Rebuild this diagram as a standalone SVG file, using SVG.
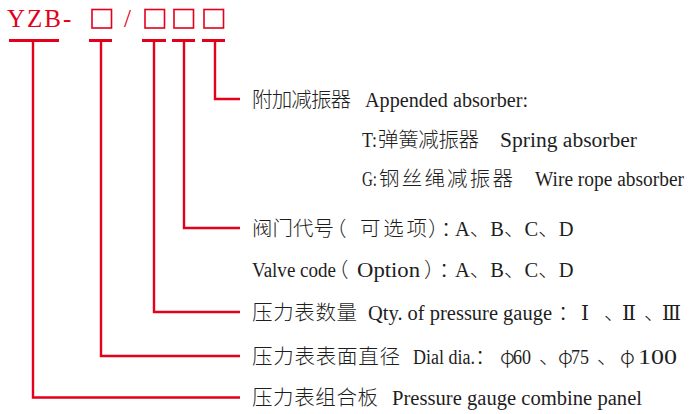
<svg xmlns="http://www.w3.org/2000/svg" width="689" height="414" viewBox="0 0 689 414">
<style>
.red{fill:#e3001b}
.box{fill:none;stroke:#e3001b;stroke-width:1.6}
.ln{fill:none;stroke:#e3001b;stroke-width:2.4}
.bar{fill:none;stroke:#e3001b;stroke-width:2.8}
text{fill:#1e1e1e;font-size:20.5px}
.cjk{font-family:"Noto Sans CJK SC","Noto Sans",sans-serif;font-weight:300}
.en{font-family:"Liberation Serif","Times New Roman",serif}
.rn{font-family:"Liberation Serif","DejaVu Serif",serif}
.ttl{fill:#e3001b;font-family:"Liberation Serif","Times New Roman",serif;font-size:25px;letter-spacing:2px}
</style>
<rect width="689" height="414" fill="#ffffff"/>
<g id="title">
<text class="ttl" x="7" y="27">YZB-</text>
<rect class="box" x="92" y="9.5" width="19.5" height="18.5"/>
<text class="ttl" x="124" y="27">/</text>
<rect class="box" x="145" y="9.5" width="19.5" height="18.5"/>
<rect class="box" x="174" y="9.5" width="19.5" height="18.5"/>
<rect class="box" x="204" y="9.5" width="19.5" height="18.5"/>
</g>
<g id="connectors">
<path class="bar" d="M9,40.5H59M89,40.5H112M142,40.5H166M172,40.5H195M202,40.5H225"/>
<path class="ln" d="M33,40.5V397.5H240"/>
<path class="ln" d="M101,40.5V356H240"/>
<path class="ln" d="M154,40.5V312H240"/>
<path class="ln" d="M184,40.5V228H240"/>
<path class="ln" d="M215,40.5V99H240"/>
</g>
<g id="absorber">
<text class="cjk" x="252" y="107" textLength="99" lengthAdjust="spacing">附加减振器</text>
<text class="en" x="365" y="107" textLength="163" lengthAdjust="spacingAndGlyphs">Appended absorber:</text>
<text class="en" x="362" y="147" textLength="15" lengthAdjust="spacingAndGlyphs">T:</text>
<text class="cjk" x="378" y="147" textLength="101" lengthAdjust="spacing">弹簧减振器</text>
<text class="en" x="500" y="147" textLength="137" lengthAdjust="spacingAndGlyphs">Spring absorber</text>
<text class="en" x="362" y="186" textLength="15" lengthAdjust="spacingAndGlyphs">G:</text>
<text class="cjk" x="379" y="186" textLength="134" lengthAdjust="spacing">钢丝绳减振器</text>
<text class="en" x="535" y="186" textLength="149" lengthAdjust="spacingAndGlyphs">Wire rope absorber</text>
</g>
<g id="valve">
<text class="cjk" x="252" y="236" textLength="82" lengthAdjust="spacing">阀门代号</text>
<text class="cjk" x="326" y="236">（</text>
<text class="cjk" x="360" y="236" textLength="67" lengthAdjust="spacing">可选项</text>
<text class="cjk" x="428" y="236">）</text>
<text class="cjk" x="441" y="236">：</text>
<text y="236"><tspan class="en" x="455">A</tspan><tspan class="cjk">、</tspan><tspan class="en">B</tspan><tspan class="cjk">、</tspan><tspan class="en">C</tspan><tspan class="cjk">、</tspan><tspan class="en">D</tspan></text>
<text class="en" x="252" y="277" textLength="84" lengthAdjust="spacingAndGlyphs">Valve code</text>
<text class="cjk" x="328" y="277">（</text>
<text class="en" x="357" y="277" textLength="63" lengthAdjust="spacingAndGlyphs">Option</text>
<text class="cjk" x="424" y="277">）</text>
<text class="cjk" x="439" y="277">：</text>
<text y="277"><tspan class="en" x="455">A</tspan><tspan class="cjk">、</tspan><tspan class="en">B</tspan><tspan class="cjk">、</tspan><tspan class="en">C</tspan><tspan class="cjk">、</tspan><tspan class="en">D</tspan></text>
</g>
<g id="qty">
<text class="cjk" x="252" y="320" textLength="105" lengthAdjust="spacing">压力表数量</text>
<text class="en" x="368" y="320" textLength="184" lengthAdjust="spacingAndGlyphs">Qty. of pressure gauge</text>
<text class="cjk" x="558" y="320">：</text>
<text class="rn" x="581" y="320" textLength="8" lengthAdjust="spacingAndGlyphs">Ⅰ</text>
<text class="cjk" x="604" y="320">、</text>
<text class="rn" x="622" y="320" textLength="14" lengthAdjust="spacingAndGlyphs">Ⅱ</text>
<text class="cjk" x="644" y="320">、</text>
<text class="rn" x="662" y="320" textLength="19" lengthAdjust="spacingAndGlyphs">Ⅲ</text>
</g>
<g id="dial">
<text class="cjk" x="252" y="364" textLength="148" lengthAdjust="spacing">压力表表面直径</text>
<text class="en" x="413" y="364" textLength="62" lengthAdjust="spacingAndGlyphs">Dial dia.</text>
<text class="cjk" x="475" y="364">：</text>
<text class="cjk" x="500" y="364">φ</text>
<text class="en" x="513" y="364" textLength="18" lengthAdjust="spacingAndGlyphs">60</text>
<text class="cjk" x="539" y="364">、</text>
<text class="cjk" x="558" y="364">φ</text>
<text class="en" x="571" y="364" textLength="18" lengthAdjust="spacingAndGlyphs">75</text>
<text class="cjk" x="597" y="364">、</text>
<text class="cjk" x="620" y="364">φ</text>
<text class="en" x="638" y="364" textLength="39" lengthAdjust="spacingAndGlyphs">100</text>
</g>
<g id="panel">
<text class="cjk" x="252" y="405" textLength="126" lengthAdjust="spacing">压力表组合板</text>
<text class="en" x="392" y="405" textLength="250" lengthAdjust="spacingAndGlyphs">Pressure gauge combine panel</text>
</g>
</svg>
